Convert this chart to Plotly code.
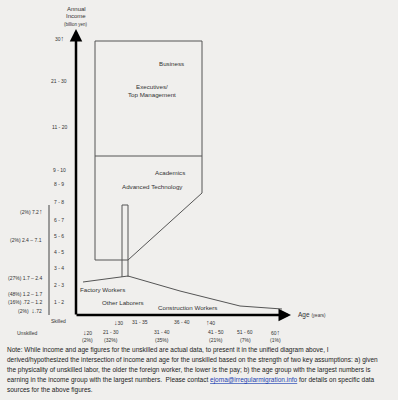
import plotly.graph_objects as go

# ---------------- data ----------------
UP = "<span style=\"font-size:7px\">\u2191</span>"
DN = "<span style=\"font-size:7px\">\u2193</span>"

skilled_income_labels = ["30" + UP, "21 - 30", "11 - 20", "9 - 10", "8 - 9", "7 - 8",
                         "6 - 7", "5 - 6", "4 - 5", "3 - 4", "2 - 3", "1 - 2"]
skilled_income_pos = [38, 81, 127, 170, 184, 202, 220, 236, 252, 268, 285, 302]

unskilled_income_labels = ["(2%) 7.2" + UP, "(2%) 2.4 \u2013 7.1", "(27%) 1.7 \u2013 2.4",
                           "(48%) 1.2 \u2013 1.7", "(16%) .72 \u2013 1.2", "(2%)  " + DN + ".72"]
unskilled_income_pos = [211, 240, 278, 294, 302, 310]

skilled_age_labels = [DN + "30", "31 - 35", "36 - 40", UP + "40"]
skilled_age_pos = [118, 140, 182, 210]

unskilled_age_labels = [DN + "20", "21 - 30", "31 - 40", "41 - 50", "51 - 60", "60" + UP]
unskilled_age_share = ["(2%)", "(32%)", "(35%)", "(21%)", "(7%)", "(1%)"]
unskilled_age_pos = [87, 111, 162, 216, 245, 275]

# skilled region outline (diagram frame coordinates)
skilled_box_x = [95, 202, 202, 128, 95, 95]
skilled_box_y = [41, 41, 193, 260, 260, 41]
skilled_divider_x = [95, 202]
skilled_divider_y = [156, 156]
# narrow transition column
column_x = [122, 122, 128, 128]
column_y = [277, 205, 205, 277]
# unskilled income curve
unskilled_x = [83, 124, 128, 180, 240, 282]
unskilled_y = [282, 276, 276, 291, 306, 309]
# unskilled income bracket line
bracket_x = [49, 49]
bracket_y = [205, 315]

region_labels = ["Business", "Executives/<br>Top Management", "Academics",
                 "Advanced Technology", "Factory Workers", "Other Laborers",
                 "Construction Workers"]
region_x = [171, 152, 170, 152, 102, 123, 187]
region_y = [63, 90, 172, 186, 289, 302, 307]

note_lines = [
    "Note: While income and age figures for the unskilled are actual data, to present it in the unified diagram above, I",
    "derived/hypothesized the intersection of income and age for the unskilled based on the strength of two key assumptions: a) given",
    "the physicality of unskilled labor, the older the foreign worker, the lower is the pay; b) the age group with the largest numbers is",
    "earning in the income group with the largest numbers.  Please contact <span style=\"color:#1a3fb0;text-decoration:underline\">ejoma@irregularmigration.info</span> for details on specific data",
    "sources for the above figures.",
]
note_pos = [350, 360, 370, 380, 390]

# ---------------- figure ----------------
FONT = "Liberation Sans, Arial, sans-serif"
LINE = "#555555"
TXT = "#333333"

fig = go.Figure()

def add_line(xs, ys, width=1, color=LINE):
    fig.add_trace(go.Scatter(x=xs, y=ys, mode="lines",
                             line=dict(color=color, width=width),
                             hoverinfo="skip", showlegend=False))

add_line(skilled_box_x, skilled_box_y)
add_line(skilled_divider_x, skilled_divider_y)
add_line(column_x, column_y)
add_line(unskilled_x, unskilled_y)
add_line(bracket_x, bracket_y, width=1, color="#444444")

ann = []
# axes with arrowheads
ann.append(dict(x=76, y=29, ax=76, ay=316, xref="x", yref="y", axref="x", ayref="y",
                showarrow=True, arrowhead=2, arrowsize=1, arrowwidth=2.5,
                arrowcolor="black", text=""))
ann.append(dict(x=291, y=315, ax=75, ay=315, xref="x", yref="y", axref="x", ayref="y",
                showarrow=True, arrowhead=2, arrowsize=1, arrowwidth=2.5,
                arrowcolor="black", text=""))

def txt(x, y, s, size=5, color=TXT, xanchor="center"):
    ann.append(dict(x=x, y=y, xref="x", yref="y", text=s, showarrow=False,
                    xanchor=xanchor, yanchor="middle",
                    font=dict(family=FONT, size=size, color=color)))

for lab, p in zip(skilled_income_labels, skilled_income_pos):
    txt(59, p, lab, size=5)
for lab, p in zip(unskilled_income_labels, unskilled_income_pos):
    txt(44, p, lab, size=5, xanchor="right")
for lab, p in zip(skilled_age_labels, skilled_age_pos):
    txt(p, 322, lab, size=5)
for lab, s, p in zip(unskilled_age_labels, unskilled_age_share, unskilled_age_pos):
    txt(p, 332, lab, size=5)
    txt(p, 340, s, size=5)
txt(58, 321, "Skilled", size=5)
txt(27, 333, "Unskilled", size=5)

for lab, x, y in zip(region_labels, region_x, region_y):
    txt(x, y, lab, size=6.2)

# axis titles
txt(76, 9, "Annual", size=6)
txt(76, 16, "Income", size=6)
txt(76, 24, "(billion yen)", size=4.5)
txt(296, 315, "Age <span style=\"font-size:4.5px\">(years)</span>", size=6.5, xanchor="left")

for line, y in zip(note_lines, note_pos):
    txt(5, y, line, size=6.5, color="#222222", xanchor="left")

fig.update_layout(
    width=398, height=400,
    margin=dict(l=0, r=0, t=0, b=0),
    paper_bgcolor="#f0efed", plot_bgcolor="#f0efed",
    xaxis=dict(range=[0, 398], visible=False, fixedrange=True),
    yaxis=dict(range=[400, 0], visible=False, fixedrange=True),
    annotations=ann,
    showlegend=False,
)

fig.write_html("out.html", config={"displayModeBar": False},
               post_script="document.body.style.margin='0';document.body.style.background='#f0efed';")
